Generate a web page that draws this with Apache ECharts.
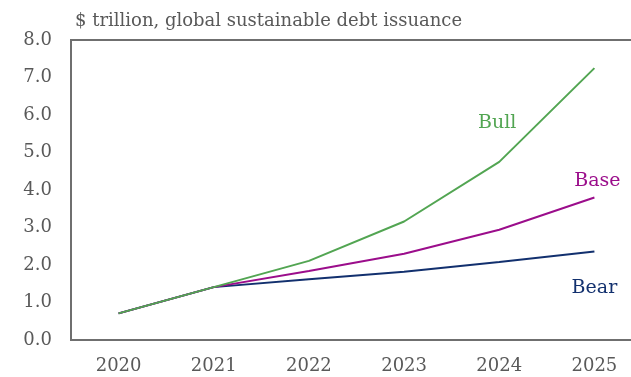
<!DOCTYPE html>
<html>
<head>
<meta charset="utf-8">
<script src="https://cdn.jsdelivr.net/npm/echarts@6/dist/echarts.min.js"></script>
<style>
  html, body { margin: 0; padding: 0; background: #fff; }
  #chart { width: 631px; height: 377px; }
</style>
</head>
<body>
<div id="chart"></div>
<script>
// data
const years = ["2020", "2021", "2022", "2023", "2024", "2025"];
const bear = [0.71, 1.41, 1.62, 1.82, 2.08, 2.36];
const base = [0.71, 1.41, 1.84, 2.30, 2.94, 3.80];
const bull = [0.71, 1.41, 2.11, 3.16, 4.75, 7.25];
const yTicks = [0, 1, 2, 3, 4, 5, 6, 7, 8];

const font = "DejaVu Serif";
const grey = "#595959";
const axisGrey = "#6f6f6f";

// put the series name next to one chosen point
function withLabel(values, idx, name, color, offset) {
  return values.map((v, i) => {
    if (i !== idx) return v;
    return {
      value: v,
      label: {
        show: true,
        position: "inside",
        offset: offset,
        formatter: name,
        color: color,
        fontFamily: font,
        fontSize: 19,
      },
    };
  });
}

let chart = echarts.init(document.getElementById("chart"));
let option = {
  animation: false,
  title: {
    text: "$ trillion, global sustainable debt issuance",
    left: 70,
    top: 7,
    textStyle: {
      fontFamily: font,
      fontSize: 18,
      fontWeight: "normal",
      color: grey,
    },
  },
  // plot runs past the right edge of the picture, as in the original
  grid: {
    left: 71,
    top: 40,
    bottom: 37,
    width: 571,
    outerBoundsMode: "none",
    containLabel: false,
    show: true,
    borderColor: axisGrey,
    borderWidth: 2,
  },
  xAxis: {
    type: "category",
    data: years,
    boundaryGap: true,
    axisLine: { lineStyle: { color: axisGrey, width: 2 } },
    axisTick: { show: false },
    axisLabel: {
      margin: 17,
      color: grey,
      fontFamily: font,
      fontSize: 18,
    },
  },
  yAxis: {
    type: "value",
    min: yTicks[0],
    max: yTicks[yTicks.length - 1],
    interval: 1,
    splitLine: { show: false },
    axisLine: { show: true, lineStyle: { color: axisGrey, width: 2 } },
    axisTick: { show: false },
    axisLabel: {
      margin: 19,
      color: grey,
      fontFamily: font,
      fontSize: 18,
      formatter: (v) => v.toFixed(1),
    },
  },
  series: [
    {
      name: "Bear",
      type: "line",
      symbol: "circle",
      symbolSize: 0,
      lineStyle: { color: "#12306e", width: 2 },
      itemStyle: { color: "#12306e" },
      data: withLabel(bear, 5, "Bear", "#12306e", [0, 37]),
    },
    {
      name: "Base",
      type: "line",
      symbol: "circle",
      symbolSize: 0,
      lineStyle: { color: "#9b0d8b", width: 2 },
      itemStyle: { color: "#9b0d8b" },
      data: withLabel(base, 5, "Base", "#9b0d8b", [3, -16]),
    },
    {
      name: "Bull",
      type: "line",
      symbol: "circle",
      symbolSize: 0,
      lineStyle: { color: "#52a552", width: 2 },
      itemStyle: { color: "#52a552" },
      data: withLabel(bull, 4, "Bull", "#52a552", [-2, -39]),
    },
  ],
};
chart.setOption(option);
</script>
</body>
</html>
